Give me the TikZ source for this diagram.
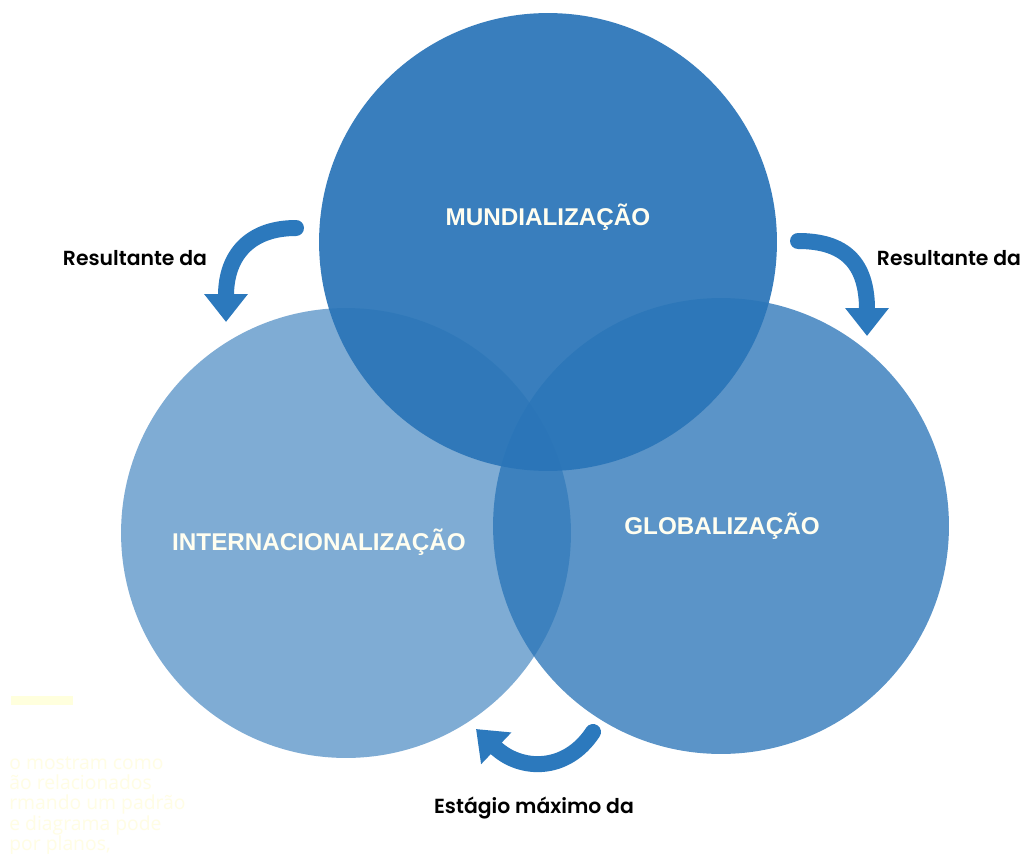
\documentclass[tikz,border=0pt]{standalone}
\usepackage{fontspec}
\usetikzlibrary{arrows.meta}
\newfontfamily\circfont{Liberation Sans}
\newfontfamily\tagfont{Poppins}[UprightFont={* SemiBold}]
\newfontfamily\ghostfont{Open Sans}
\definecolor{base}{HTML}{2A75B8}
\definecolor{arrowblue}{HTML}{2C79BD}
\definecolor{ghost}{HTML}{FFFDE4}
\definecolor{ghostbar}{HTML}{FFFFDD}
\begin{document}
\begin{tikzpicture}[x=0.02cm,y=0.02cm,
    disc/.style={circle,fill=base,inner sep=0pt,outer sep=0pt},
    circ/.style={font=\circfont\bfseries\fontsize{13.8}{16}\selectfont,text=white!94!yellow},
    tag/.style={font=\tagfont\fontsize{11.6}{14}\selectfont,text=black},
    curvearrow/.style={arrowblue,line width=0.32cm,line cap=round,-{Triangle[length=0.56cm,width=0.84cm]}}]
    \fill[white] (0,0) rectangle (1026,853);
    \useasboundingbox (0,0) rectangle (1026,853);
    % the three circles
    \node[disc,fill opacity=0.6,minimum size=9cm] (inter) at (346,320) {};
    \node[disc,fill opacity=0.77,minimum size=9.12cm] (glob) at (721,327) {};
    \node[disc,fill opacity=0.93,minimum size=9.16cm] (mund) at (548,611) {};
    \node[circ] (mundtxt) at (548,636) {MUNDIALIZAÇÃO};
    \node[circ] (intertxt) at (319,311) {INTERNACIONALIZAÇÃO};
    \node[circ] (globtxt) at (722,327) {GLOBALIZAÇÃO};
    % arrows and their labels
    \coordinate (lstart) at (296,625);
    \coordinate (lend) at (226,531);
    \coordinate (rstart) at (798,612);
    \coordinate (rend) at (867,517);
    \coordinate (bstart) at (593,121);
    \coordinate (bstop) at (476,124);
    \draw[curvearrow] (lstart) .. controls (250,625) and (226,598) .. (lend);
    \draw[curvearrow] (rstart) .. controls (845,612) and (867,590) .. (rend);
    \draw[curvearrow] (bstart) .. controls (566,80) and (520,82) .. (bstop);
    \node[tag] (tagleft) at (135,595) {Resultante da};
    \node[tag] (tagright) at (949,595) {Resultante da};
    \node[tag] (tagbottom) at (534,45) {Estágio máximo da};
    % faint leftover text, bottom left
    \fill[ghostbar] (11,148) rectangle (73,157);
    \begin{scope}
        \clip (10,0) rectangle (200,110);
        \node[anchor=north west,inner sep=0pt,align=left,text=ghost,
            font=\ghostfont\fontsize{11}{11.6}\selectfont] (ghosttxt) at (9,97)
            {o mostram como\\ão relacionados\\rmando um padrão\\e diagrama pode\\por planos,};
    \end{scope}
\end{tikzpicture}
\end{document}
